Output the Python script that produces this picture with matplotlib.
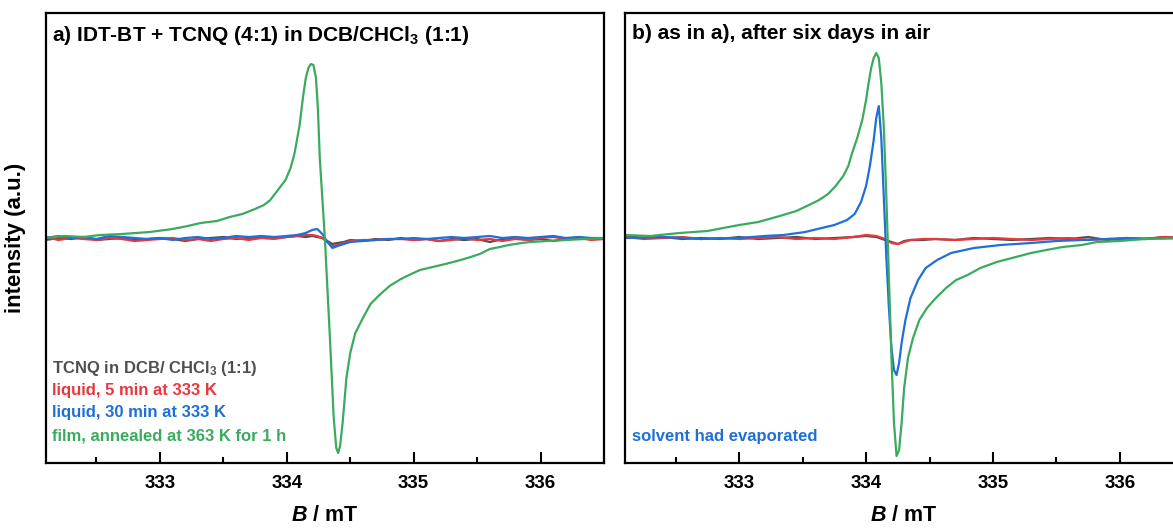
import numpy as np
import matplotlib
matplotlib.use('Agg')
import matplotlib.pyplot as plt
from matplotlib.ticker import MultipleLocator

plt.rcParams['font.family'] = ['Liberation Sans', 'DejaVu Sans']
plt.rcParams['font.weight'] = 'bold'
plt.rcParams['axes.labelweight'] = 'bold'
plt.rcParams['mathtext.fontset'] = 'custom'
plt.rcParams['mathtext.rm'] = 'Liberation Sans:bold'
plt.rcParams['mathtext.bf'] = 'Liberation Sans:bold'
plt.rcParams['mathtext.it'] = 'Liberation Sans:italic:bold'
plt.rcParams['mathtext.bfit'] = 'Liberation Sans:italic:bold'
plt.rcParams['mathtext.default'] = 'bf'

# colours
c_gray = '#4f4f4f'
c_red = '#e8383d'
c_blue = '#1f6fd9'
c_green = '#3aab5e'

# ---- panel a) data (B in mT, intensity arb.) ----
a_green_B = [332.10, 332.25, 332.40, 332.53, 332.70, 332.92, 333.10, 333.22, 333.32, 333.45,
             333.55, 333.65, 333.75, 333.82, 333.87, 333.93, 333.99, 334.03, 334.06, 334.10,
             334.13, 334.15, 334.17, 334.19, 334.21, 334.23, 334.245, 334.26, 334.28, 334.30,
             334.34, 334.37, 334.39, 334.405, 334.42, 334.44, 334.47, 334.50, 334.54, 334.60,
             334.66, 334.73, 334.81, 334.90, 334.98, 335.05, 335.15, 335.25, 335.37, 335.45,
             335.52, 335.60, 335.68, 335.75, 335.85, 335.92, 336.05, 336.20, 336.35, 336.50]
a_green_I = [0, 2, 1, 3, 4, 6, 9, 12, 15, 17,
             21, 24, 29, 33, 38, 48, 58, 70, 84, 112,
             143, 160, 170, 174, 173, 160, 130, 80, 40, 0,
             -100, -180, -210, -215, -208, -185, -140, -115, -95, -80,
             -66, -57, -48, -41, -36, -32, -29, -26, -22, -19,
             -16, -11, -9, -7, -5, -4, -3, -2, -1, 0]

a_base_B = [332.10, 332.20, 332.30, 332.40, 332.50, 332.60, 332.70, 332.80, 332.90, 333.00,
            333.10, 333.20, 333.30, 333.40, 333.50, 333.60, 333.70, 333.80, 333.90, 334.00,
            334.08, 334.15, 334.20, 334.24, 334.28, 334.32, 334.36, 334.40, 334.45, 334.50,
            334.60, 334.70, 334.80, 334.90, 335.00, 335.10, 335.20, 335.30, 335.40, 335.50,
            335.60, 335.70, 335.80, 335.90, 336.00, 336.10, 336.20, 336.30, 336.40, 336.50]
a_gray_I = [-2, 0, -1, 1, -2, -1, 0, -2, -1, 0,
            -1, -3, -1, 0, 1, -1, 0, 1, 0, 1,
            2, 1, 2, 1, 0, -3, -6, -5, -4, -2,
            -3, -1, -2, 0, -2, -1, -3, -1, -2, -1,
            -4, -1, 0, -2, -1, -3, -1, 0, -1, 0]
a_red_I = [1, -2, 0, -1, -2, 0, -1, -3, -2, -1,
           0, -2, -1, -3, -1, 0, -2, 0, -1, 1,
           2, 3, 3, 2, 0, -4, -8, -7, -5, -3,
           -2, -2, -1, -1, -2, -1, -3, -2, 0, -2,
           -1, -3, -1, -2, 0, 1, -1, 0, -2, -1]
a_blue_I = [0, 2, 0, 1, -1, 2, 1, 0, -1, 0,
            -2, 0, 1, -1, 0, 2, 1, 2, 1, 2,
            3, 5, 8, 9, 4, -4, -10, -8, -6, -4,
            -3, -2, -1, -1, 0, -1, 0, 1, 0, 1,
            2, 0, 1, 0, 1, 2, 0, 1, 0, 0]

# ---- panel b) data ----
b_green_B = [332.10, 332.30, 332.53, 332.75, 333.00, 333.15, 333.32, 333.45, 333.55, 333.63,
             333.70, 333.76, 333.82, 333.86, 333.89, 333.93, 333.97, 334.00, 334.02, 334.04,
             334.06, 334.08, 334.10, 334.12, 334.14, 334.16, 334.18, 334.20, 334.22, 334.24,
             334.26, 334.28, 334.30, 334.33, 334.37, 334.42, 334.48, 334.55, 334.63, 334.71,
             334.80, 334.90, 335.03, 335.15, 335.30, 335.42, 335.55, 335.70, 335.82, 336.00,
             336.20, 336.50]
b_green_I = [3, 2, 5, 7, 13, 16, 22, 27, 33, 38,
             44, 52, 62, 72, 85, 100, 118, 138, 155, 170,
             180, 185, 180, 155, 110, 40, -40, -120, -185, -218,
             -212, -185, -150, -120, -100, -82, -70, -60, -50, -42,
             -37, -30, -24, -20, -15, -12, -9, -7, -4, -3,
             -1, 0]

b_blue_B = [332.10, 332.40, 332.70, 333.00, 333.20, 333.35, 333.52, 333.65, 333.75, 333.85,
            333.91, 333.96, 334.00, 334.03, 334.06, 334.08, 334.10, 334.12, 334.14, 334.16,
            334.18, 334.20, 334.22, 334.24, 334.26, 334.28, 334.31, 334.35, 334.41, 334.47,
            334.56, 334.67, 334.85, 335.06, 335.30, 335.50, 335.90, 336.50]
b_blue_I = [0, 1, -1, 0, 2, 3, 6, 10, 13, 18,
            24, 36, 52, 72, 98, 120, 132, 100, 40, -20,
            -70, -110, -132, -137, -125, -105, -82, -60, -42, -30,
            -22, -15, -10, -7, -5, -3, -1, 0]

b_base_B = [332.10, 332.25, 332.40, 332.55, 332.70, 332.85, 333.00, 333.15, 333.30, 333.45,
            333.60, 333.75, 333.90, 334.00, 334.08, 334.15, 334.20, 334.25, 334.30, 334.35,
            334.45, 334.55, 334.70, 334.85, 335.00, 335.15, 335.30, 335.45, 335.60, 335.75,
            335.90, 336.05, 336.20, 336.35, 336.50]
b_gray_I = [2, 0, 1, -1, 0, -1, 1, -1, 0, 1,
            -1, 0, 1, 2, 1, -2, -4, -6, -3, -2,
            -2, -1, -2, 0, -1, -2, -1, 0, -1, 1,
            -2, 0, -1, 1, 0]
b_red_I = [1, -1, 0, 1, -1, 0, -1, 0, 1, -1,
           0, -1, 1, 3, 2, -1, -5, -6, -4, -2,
           -1, -1, -2, -1, 0, -1, -2, -1, 0, -2,
           -1, 0, -1, 1, 0]

legend_a = ['TCNQ in DCB/ CHCl$_3$ (1:1)', 'liquid, 5 min at 333 K',
            'liquid, 30 min at 333 K', 'film, annealed at 363 K for 1 h']
legend_colors = [c_gray, c_red, c_blue, c_green]

W, H = 1173, 529
fig = plt.figure(figsize=(W / 100, H / 100), dpi=100)


def px_axes(x0, x1, y0, y1):
    return fig.add_axes([x0 / W, 1 - y1 / H, (x1 - x0) / W, (y1 - y0) / H])


ax1 = px_axes(45.7, 604, 13, 463)
ax2 = px_axes(625, 1183.3, 13, 463)

lw = 1.6
ax1.plot(a_base_B, a_gray_I, color=c_gray, lw=lw)
ax1.plot(a_base_B, a_red_I, color=c_red, lw=lw)
ax1.plot(a_base_B, a_blue_I, color=c_blue, lw=lw)
ax1.plot(a_green_B, a_green_I, color=c_green, lw=lw)

ax2.plot(b_base_B, b_gray_I, color=c_gray, lw=lw)
ax2.plot(b_base_B, b_red_I, color=c_red, lw=lw)
ax2.plot(b_blue_B, b_blue_I, color=c_blue, lw=lw)
ax2.plot(b_green_B, b_green_I, color=c_green, lw=lw)

for ax in (ax1, ax2):
    ax.set_xlim(332.1, 336.5)
    ax.set_ylim(-225, 225)
    ax.xaxis.set_major_locator(MultipleLocator(1))
    ax.xaxis.set_minor_locator(MultipleLocator(0.5))
    ax.tick_params(axis='x', which='major', direction='in', length=8, width=1.5,
                   labelsize=13.5, pad=9)
    ax.tick_params(axis='x', which='minor', direction='in', length=4, width=1.5)
    ax.set_yticks([])
    for s in ax.spines.values():
        s.set_linewidth(1.6)
    ax.set_xlabel(r'$\mathbfit{B}$ / mT', fontsize=15.5, labelpad=9)

ax1.set_ylabel('intensity (a.u.)', fontsize=16, labelpad=14)

ax1.text(0.012, 0.975, 'a) IDT-BT + TCNQ (4:1) in DCB/CHCl$_3$ (1:1)', transform=ax1.transAxes,
         fontsize=15, va='top', ha='left')
ax2.text(0.012, 0.975, 'b) as in a), after six days in air', transform=ax2.transAxes,
         fontsize=15, va='top', ha='left')

y_px = [369, 391, 413, 436]
for txt, col, yp in zip(legend_a, legend_colors, y_px):
    ax1.text(52, H - yp, txt, transform=None, color=col, fontsize=12,
             va='center', ha='left')
ax2.text(632, H - 436, 'solvent had evaporated', transform=None, color=c_blue,
         fontsize=12, va='center', ha='left')

fig.savefig('out.png', dpi=100)
